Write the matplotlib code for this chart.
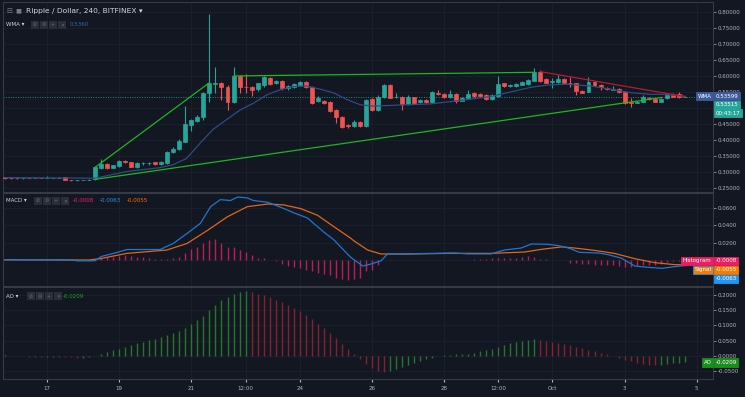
import numpy as np
import matplotlib
matplotlib.use("Agg")
import matplotlib.pyplot as plt
from matplotlib.ticker import FormatStrFormatter

BG = "#131722"
GRID = "#1c2030"
TXT = "#b2b5be"
UP = "#26a69a"
DOWN = "#ef5350"

# 4h candles, x in days counted from Sep 1 (Oct 1 = 31); first bar Sep 15 20:00
t0 = 15 + 20 / 24

opens = [.2825, .2800, .2795, .2785, .2800, .2790, .2800, .2795, .2790, .2790,
         .2820, .2745, .2720, .2725, .2735, .2756, .3122, .3237, .3122, .3174,
         .3331, .3289, .3154, .3258, .3260, .3289, .3237, .3258, .3603, .3697,
         .3937, .4459, .4585, .4700, .5452, .5755, .5786, .5661, .5191, .5995,
         .5645, .5661, .5577, .5713, .5943, .5765, .5849, .5608, .5661, .5713,
         .5807, .5661, .5211, .5222, .5191, .4930, .4720, .4459, .4428, .4563,
         .4427, .5263, .4929, .5326, .5712, .5326, .5347, .5117, .5326, .5180,
         .5242, .5190, .5472, .5430, .5347, .5430, .5221, .5315, .5451, .5420,
         .5399, .5273, .5378, .5765, .5681, .5681, .5723, .5744, .5848, .6120,
         .5890, .5817, .5796, .5890, .5785, .5765, .5535, .5503, .5796, .5723,
         .5629, .5566, .5587, .5503, .5190, .5159, .5190, .5315, .5284, .5190,
         .5294, .5399, .5430, .5347]
highs = [.2840, .2810, .2800, .2805, .2805, .2805, .2810, .2870, .2810, .2815,
         .2825, .2750, .2740, .2750, .2755, .3180, .3383, .3270, .3220, .3370,
         .3350, .3300, .3290, .3310, .3300, .3300, .3320, .3640, .3760, .4030,
         .5055, .4650, .4760, .5480, .7940, .6287, .5820, .5700, .6280, .6030,
         .6050, .5690, .5790, .5980, .5970, .5880, .5880, .5710, .5760, .5850,
         .5840, .5670, .5370, .5250, .5210, .4950, .4740, .4480, .4630, .4580,
         .5270, .5310, .5400, .5740, .5740, .5470, .5370, .5400, .5350, .5270,
         .5270, .5510, .5560, .5450, .5560, .5450, .5340, .5550, .5480, .5460,
         .5420, .5420, .6000, .5790, .5740, .5770, .5850, .5900, .6240, .6170,
         .5920, .5920, .6030, .5920, .5950, .5790, .5560, .5950, .5830, .5750,
         .5660, .5670, .5610, .5530, .5310, .5210, .5390, .5340, .5310, .5310,
         .5420, .5460, .5480, .5370]
lows = [.2780, .2775, .2780, .2780, .2785, .2785, .2785, .2790, .2785, .2785,
        .2735, .2715, .2710, .2720, .2725, .2720, .3090, .3090, .3100, .3150,
        .3270, .3130, .3120, .3200, .3220, .3220, .3220, .3240, .3580, .3670,
        .3920, .4280, .4550, .4610, .5190, .5450, .5250, .4930, .5150, .5450,
        .5450, .5370, .5520, .5660, .5710, .5730, .5560, .5570, .5630, .5690,
        .5620, .5130, .5190, .5130, .4880, .4530, .4360, .4370, .4410, .4400,
        .4400, .4900, .4900, .5300, .5290, .5290, .4930, .5090, .5130, .5150,
        .5150, .5170, .5400, .5320, .5320, .5150, .5200, .5300, .5350, .5340,
        .5250, .5250, .5350, .5650, .5640, .5660, .5700, .5720, .5830, .5820,
        .5760, .5610, .5770, .5740, .5660, .5400, .5450, .5480, .5690, .5560,
        .5550, .5550, .5470, .5110, .5020, .5140, .5170, .5240, .5170, .5170,
        .5270, .5330, .5310, .5330]
closes = [.2790, .2785, .2785, .2800, .2790, .2800, .2790, .2805, .2800, .2805,
          .2740, .2725, .2735, .2745, .2750, .3133, .3237, .3122, .3195, .3342,
          .3289, .3154, .3258, .3262, .3268, .3237, .3300, .3613, .3718, .3958,
          .4491, .4616, .4720, .5452, .5786, .5786, .5640, .5170, .5995, .5640,
          .5640, .5556, .5765, .5953, .5744, .5849, .5608, .5681, .5734, .5817,
          .5640, .5159, .5295, .5159, .4909, .4700, .4386, .4428, .4564, .4427,
          .5242, .4929, .5347, .5712, .5315, .5347, .5117, .5347, .5159, .5242,
          .5180, .5493, .5420, .5347, .5430, .5221, .5315, .5420, .5378, .5367,
          .5273, .5399, .5744, .5681, .5712, .5744, .5817, .5869, .6120, .5848,
          .5785, .5837, .5890, .5765, .5765, .5535, .5472, .5817, .5712, .5639,
          .5576, .5587, .5503, .5138, .5159, .5190, .5347, .5263, .5190, .5284,
          .5399, .5347, .5326, .53515]

# WMA line read at bar positions
wma_bar = [0, 9, 15, 20.2, 25.7, 27.9, 30.2, 32.4, 34.6, 36.8, 39.1, 41.3, 43.5,
           45.7, 47.9, 50.2, 52.4, 54.6, 56.8, 59.1, 61.2, 65.1, 70.7, 76.3,
           80.7, 83.5, 87.4, 90.2, 93.0, 97.4, 101.3, 104.1, 107.4, 109.7, 113]
wma_val = [.281, .280, .279, .300, .312, .321, .341, .388, .432, .462, .493,
           .514, .540, .556, .566, .568, .558, .547, .526, .509, .505, .508,
           .512, .524, .535, .547, .564, .571, .574, .568, .556, .547, .542,
           .542, .53599]

# MACD panel
macd_bar = [0, 10.8, 12, 14.2, 15, 16, 18.3, 20.3, 25.8, 28, 30.3, 32.5, 34.2,
            35.8, 37.5, 38.7, 40.3, 41.3, 43.7, 46.3, 48, 50.3, 51.3, 53, 54.7,
            56.3, 57.5, 59.5, 60.8, 62.5, 63.6, 65.8, 71.3, 74.7, 77, 80.8, 83,
            85.8, 87.5, 90.3, 92, 93.7, 95.5, 98.7, 100.3, 102.5, 104.7, 107,
            109.2, 111.3, 113]
macd_val = [.0003, .0002, -.0008, -.0010, -.0008, .0040, .0080, .0120, .0120,
            .0190, .0305, .0420, .0610, .0690, .0680, .0720, .0710, .0680,
            .0660, .0590, .0540, .0480, .0420, .0320, .0230, .0114, .0030,
            -.0069, -.0046, -.0010, .0069, .0069, .0076, .0080, .0070, .0070,
            .0114, .0137, .0183, .0180, .0164, .0137, .0088, .0080, .0061,
            .0020, -.0069, -.0084, -.0095, -.0076, -.0063]
signal_bar = [0, 14, 15.8, 20.3, 26.9, 30.3, 33.7, 37, 40.3, 43.7, 46.3, 49.2,
              52, 54.7, 57.5, 58, 60.3, 62.5, 67, 73.7, 80.8, 86.3, 89.2, 92.5,
              94.7, 98, 101.3, 104.7, 108, 111.3, 113]
signal_val = [.0002, .0000, .0015, .0076, .0114, .0190, .0340, .0495, .0610,
              .0640, .0630, .0587, .0510, .0380, .0248, .0220, .0114, .0069,
              .0069, .0076, .0076, .0091, .0122, .0150, .0137, .0110, .0076,
              .0015, -.0030, -.0053, -.0055]
hist = [.0002, .0002, .0001, .0001, .0002, .0001, .0000, .0001, .0001, .0000,
        -.0003, -.0005, -.0006, -.0005, -.0004,
        .0005, .0020, .0030, .0040, .0050, .0055, .0050, .0040, .0030, .0020,
        .0015, .0010, .0015, .0020, .0040, .0080,
        .0126, .0146, .0190, .0229, .0236, .0194, .0150, .0150, .0114, .0087,
        .0057, .0023, .0023, .0000,
        -.0015, -.0044, -.0065, -.0080, -.0091, -.0110, -.0130, -.0145, -.0160,
        -.0170, -.0210, -.0220, -.0227, -.0220, -.0206, -.0126, -.0110, -.0061,
        .0005, .0005, .0005, .0005, .0005, .0005, .0005, .0005, .0003, .0000,
        .0003, .0005, .0003, .0004, .0005,
        .0010, .0010, .0015, .0020, .0023, .0023, .0023, .0023, .0030, .0050,
        .0030, .0015, .0008, .0003, .0000, -.0005,
        -.0038, -.0038, -.0046, -.0046, -.0053, -.0053, -.0053, -.0053, -.0069,
        -.0076, -.0076, -.0069, -.0053, -.0061, -.0053, -.0046, -.0020, -.0015,
        -.0010, -.0008]

# Awesome oscillator, one value per bar
ao = [.002, .001, .000, -.001, -.002, -.002, -.003, -.003, -.002, -.002,
      -.003, -.004, -.005, -.005, -.004, .000, .006, .012, .018, .024,
      .030, .036, .041, .046, .051, .056, .061, .067, .074, .082,
      .092, .104, .117, .132, .150, .167, .182, .193, .204, .210,
      .212, .208, .204, .199, .192, .184, .175, .166, .156, .146,
      .134, .120, .105, .090, .074, .058, .040, .024, .008, -.010,
      -.025, -.038, -.048, -.052, -.050, -.044, -.037, -.030, -.022, -.016,
      -.010, -.005, -.001, .002, .004, .005, .006, .008, .011, .015,
      .019, .024, .030, .036, .041, .045, .049, .052, .054, .053,
      .050, .047, .044, .040, .036, .031, .026, .021, .016, .011,
      .006, .001, -.005, -.012, -.018, -.023, -.026, -.028, -.029, -.028,
      -.026, -.024, -.022, -.0209]

# trend-line drawings: (bar, price) anchors
green_lines = [([15, 34], [.3133, .5786]),
               ([38, 88], [.5995, .6110]),
               ([15, 109.2], [.2756, .5320])]
red_line = ([89, 113], [.6130, .5350])

xticks = [17, 19, 21, 22.5, 24, 26, 28, 29.5, 31, 33, 35]
xlabels = ["17", "19", "21", "12:00", "24", "26", "28", "12:00", "Oct", "3", "5"]

W, H = 745, 397
fig = plt.figure(figsize=(W / 100, H / 100), dpi=100, facecolor=BG)


def px_box(x0, y0, x1, y1):
    return [x0 / W, 1 - y1 / H, (x1 - x0) / W, (y1 - y0) / H]


ax1 = fig.add_axes(px_box(3, 2, 713, 192))
ax2 = fig.add_axes(px_box(3, 193, 713, 286), sharex=ax1)
ax3 = fig.add_axes(px_box(3, 287, 713, 379), sharex=ax1)

n = len(closes)
t = t0 + np.arange(n) / 6
o = np.array(opens)
c = np.array(closes)
col = np.where(c >= o, UP, DOWN)

for ax in (ax1, ax2, ax3):
    ax.set_facecolor(BG)
    for s in ax.spines.values():
        s.set_color("#363a45")
        s.set_linewidth(0.8)
    ax.yaxis.tick_right()
    ax.tick_params(axis="y", colors=TXT, labelsize=4.0, length=2, width=0.5, pad=1.5)
    ax.tick_params(axis="x", length=0)
    ax.grid(True, color=GRID, lw=0.6)
    ax.set_axisbelow(True)
    ax.set_xticks(xticks)

ax1.set_xlim(15.781, 35.449)
ax1.tick_params(axis="x", labelbottom=False)
ax2.tick_params(axis="x", labelbottom=False)
ax3.set_xticklabels(xlabels)
ax3.tick_params(axis="x", colors=TXT, labelsize=4.0, length=2, pad=3)

# price panel
ax1.set_ylim(0.2359, 0.8313)
ax1.set_yticks(np.arange(0.25, 0.801, 0.05))
ax1.yaxis.set_major_formatter(FormatStrFormatter("%.5f"))
ax1.vlines(t, lows, highs, colors=col, lw=0.8, zorder=3)
ax1.bar(t, c - o, bottom=o, width=0.11, color=col, edgecolor=col, lw=0.5, zorder=4)
ax1.plot(t0 + np.array(wma_bar) / 6, wma_val, color="#2f4a86", lw=0.9, zorder=5)
for xs, ys in green_lines:
    ax1.plot(t0 + np.array(xs) / 6, ys, color="#1fb51f", lw=0.9, zorder=6)
ax1.plot(t0 + np.array(red_line[0]) / 6, red_line[1], color="#b71c2c", lw=0.9, zorder=6)
ax1.axhline(closes[-1], color=UP, lw=0.7, ls=(0, (1, 1.5)), alpha=0.8, zorder=2)

# MACD panel (0.0000 label sits under the value tags, so only its grid line shows)
ax2.set_ylim(-0.0297, 0.0766)
ax2.set_yticks([0.02, 0.04, 0.06])
ax2.yaxis.set_major_formatter(FormatStrFormatter("%.4f"))
ax2.axhline(0, color=GRID, lw=0.6, zorder=1)
ax2.vlines(t, 0, hist, colors="#e91e63", lw=1.0, alpha=0.8, zorder=3)
ax2.plot(t0 + np.array(signal_bar) / 6, signal_val, color="#e0661a", lw=0.9, zorder=4)
ax2.plot(t0 + np.array(macd_bar) / 6, macd_val, color="#1e77d3", lw=0.9, zorder=5)

# AO panel
ax3.set_ylim(-0.0752, 0.2255)
ax3.set_yticks([-0.05, 0.0, 0.05, 0.10, 0.15, 0.20])
ax3.yaxis.set_major_formatter(FormatStrFormatter("%.4f"))
ao_arr = np.array(ao)
ao_col = ["#2e9e2e" if k == 0 or ao_arr[k] >= ao_arr[k - 1] else "#b22833" for k in range(n)]
ax3.vlines(t, 0, ao_arr, colors=ao_col, lw=1.0, alpha=0.7, zorder=3)


def tag(ax, y, s, fc, dy=0, ec=None, side="axis"):
    if side == "axis":
        x, ha = 1.0, "left"
        dx = 2.5
    else:
        x, ha = 1.0, "right"
        dx = -1.5
    ax.annotate(s, xy=(x, y), xycoords=("axes fraction", "data"),
                xytext=(dx, dy), textcoords="offset pixels", ha=ha, va="center",
                fontsize=4.0, color="white", annotation_clip=False, zorder=20,
                bbox=dict(boxstyle="square,pad=0.3", fc=fc, ec=ec or fc, lw=0.6))


tag(ax1, 0.53599, "0.53599", "#3d5a9d")
tag(ax1, 0.53599, "WMA", "#3d5a9d", side="in")
tag(ax1, 0.53599, "0.53515", UP, dy=-8.5)
tag(ax1, 0.53599, "00:43:17", UP, dy=-17)

tag(ax2, -0.0008, "-0.0008", "#e91e63")
tag(ax2, -0.0008, "Histogram", "#e91e63", side="in")
tag(ax2, -0.0008, "-0.0055", "#f57c00", dy=-9)
tag(ax2, -0.0008, "Signal", "#f57c00", dy=-9, ec="#2196f3", side="in")
tag(ax2, -0.0008, "-0.0063", "#2196f3", dy=-18)

tag(ax3, -0.0209, "-0.0209", "#1b8f1b")
tag(ax3, -0.0209, "AO", "#1b8f1b", side="in")


def ftext(x, y, s, **kw):
    fig.text(x / W, 1 - y / H, s, va="center", ha="left", **kw)


def icons(x, y):
    for k, g in enumerate(["⊘", "⚙", "+", "✕"]):
        ftext(x + 9 * k, y, g, fontsize=3.4, color="#6a6d78",
              bbox=dict(boxstyle="square,pad=0.4", fc="#2a2e39", ec="none"))


ftext(6, 11, "⊟", fontsize=5, color="#787b86")
ftext(15, 11, "■", fontsize=4.5, color="#787b86")
ftext(26, 11, "Ripple / Dollar, 240, BITFINEX ▾", fontsize=5.4, color="#d1d4dc")

ftext(6, 25, "WMA ▾", fontsize=4.0, color="#d1d4dc")
icons(33, 25)
ftext(70, 25, "0.5360", fontsize=4.0, color="#3f63b5")

ftext(6, 201, "MACD ▾", fontsize=4.0, color="#d1d4dc")
icons(36, 201)
ftext(73, 201, "-0.0008", fontsize=4.0, color="#ff1a6b")
ftext(100, 201, "-0.0063", fontsize=4.0, color="#2196f3")
ftext(127, 201, "-0.0055", fontsize=4.0, color="#ff6d00")

ftext(6, 296, "AO ▾", fontsize=4.0, color="#d1d4dc")
icons(29, 296)
ftext(63, 296, "-0.0209", fontsize=4.0, color="#1fa31f")

fig.savefig("out.png", dpi=100, facecolor=BG)
